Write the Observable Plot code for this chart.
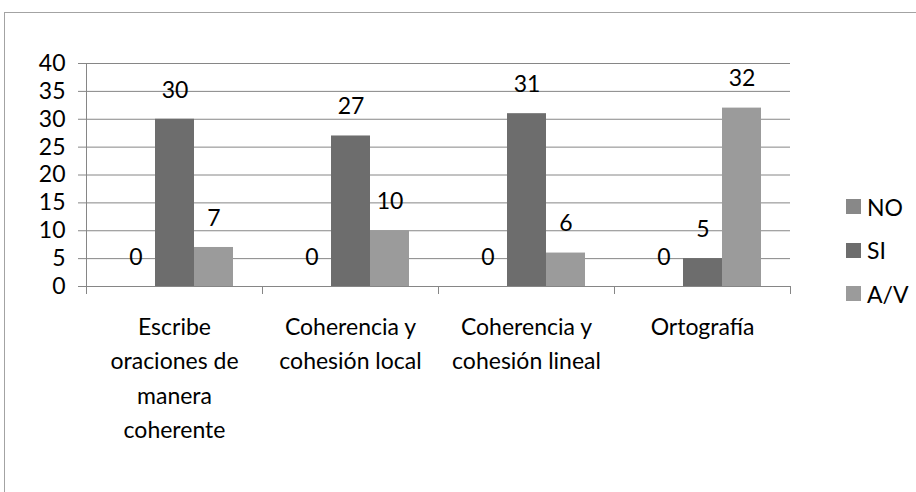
<!DOCTYPE html>
<html>
<head>
<meta charset="utf-8">
<script src="https://cdn.jsdelivr.net/npm/d3@7"></script>
<script src="https://cdn.jsdelivr.net/npm/@observablehq/plot@0.6"></script>
<style>
  html, body { margin: 0; padding: 0; background: #fff; overflow: hidden; }
  body { width: 916px; height: 492px; position: relative; font-family: Lato, "Open Sans", sans-serif; }
  #border { position: absolute; left: 4px; top: 12px; width: 1000px; height: 1000px; border: 1.5px solid #a3a3a3; box-sizing: border-box; }
  #chart { position: absolute; left: 0; top: 0; }
  #legend { position: absolute; left: 846px; top: 185px; font-size: 23px; color: #000; }
  .row { display: flex; align-items: center; height: 43.5px; }
  .sw { width: 15px; height: 15px; margin-right: 6px; }
</style>
</head>
<body>
<div id="border"></div>
<div id="chart"></div>
<div id="legend"></div>
<script>
const categories = ["Escribe oraciones de manera coherente", "Coherencia y cohesión local", "Coherencia y cohesión lineal", "Ortografía"];
const categoryLabels = ["Escribe\noraciones de\nmanera\ncoherente", "Coherencia y\ncohesión local", "Coherencia y\ncohesión lineal", "Ortografía"];
const seriesNames = ["NO", "SI", "A/V"];
const valuesNO = [0, 0, 0, 0];
const valuesSI = [30, 27, 31, 5];
const valuesAV = [7, 10, 6, 32];
const seriesColors = ["#888888", "#6d6d6d", "#9b9b9b"];
const yTicks = [0, 5, 10, 15, 20, 25, 30, 35, 40];

const seriesValues = [valuesNO, valuesSI, valuesAV];
const rows = [];
categories.forEach((c, i) => {
  seriesNames.forEach((s, j) => rows.push({category: c, series: s, value: seriesValues[j][i]}));
});
const labelOf = new Map(categories.map((c, i) => [c, categoryLabels[i]]));

const gray = "#868686";
const plot = Plot.plot({
  width: 916,
  height: 492,
  marginLeft: 86,
  marginRight: 126,
  marginTop: 63,
  marginBottom: 206,
  style: {fontFamily: "Lato, 'Open Sans', sans-serif", fontSize: "23px", color: "#000", background: "transparent"},
  fx: {domain: categories, paddingInner: 0, paddingOuter: 0, label: null},
  x: {domain: seriesNames, paddingInner: 0, paddingOuter: 0.756, axis: null},
  y: {domain: [0, 40], label: null},
  color: {domain: seriesNames, range: seriesColors},
  marks: [
    Plot.gridY(yTicks, {stroke: gray, strokeOpacity: 1, strokeWidth: 1}),
    Plot.barY(rows, {fx: "category", x: "series", y: "value", fill: "series"}),
    Plot.frame({anchor: "left", facetAnchor: "left", stroke: gray, insetBottom: -7}),
    Plot.frame({anchor: "right", stroke: gray, insetTop: 223, insetBottom: -7}),
    Plot.axisY(yTicks, {tickSize: 8, tickPadding: 13, stroke: gray, fill: "#000", fontSize: 23, label: null, tickFormat: d => String(d)}),
    Plot.axisFx({anchor: "bottom", tickSize: 0, tickPadding: 24, fontSize: 23, lineHeight: 1.5, fill: "#000", label: null, tickFormat: d => labelOf.get(d)}),
    Plot.text(rows, {fx: "category", x: "series", y: "value", text: d => String(d.value), dy: -29, lineAnchor: "middle", fontSize: 23, fill: "#000"})
  ]
});
document.getElementById("chart").appendChild(plot);

const legend = document.getElementById("legend");
seriesNames.forEach((s, j) => {
  const row = document.createElement("div");
  row.className = "row";
  const sw = document.createElement("div");
  sw.className = "sw";
  sw.style.background = seriesColors[j];
  const t = document.createElement("span");
  t.textContent = s;
  row.appendChild(sw);
  row.appendChild(t);
  legend.appendChild(row);
});
</script>
</body>
</html>
